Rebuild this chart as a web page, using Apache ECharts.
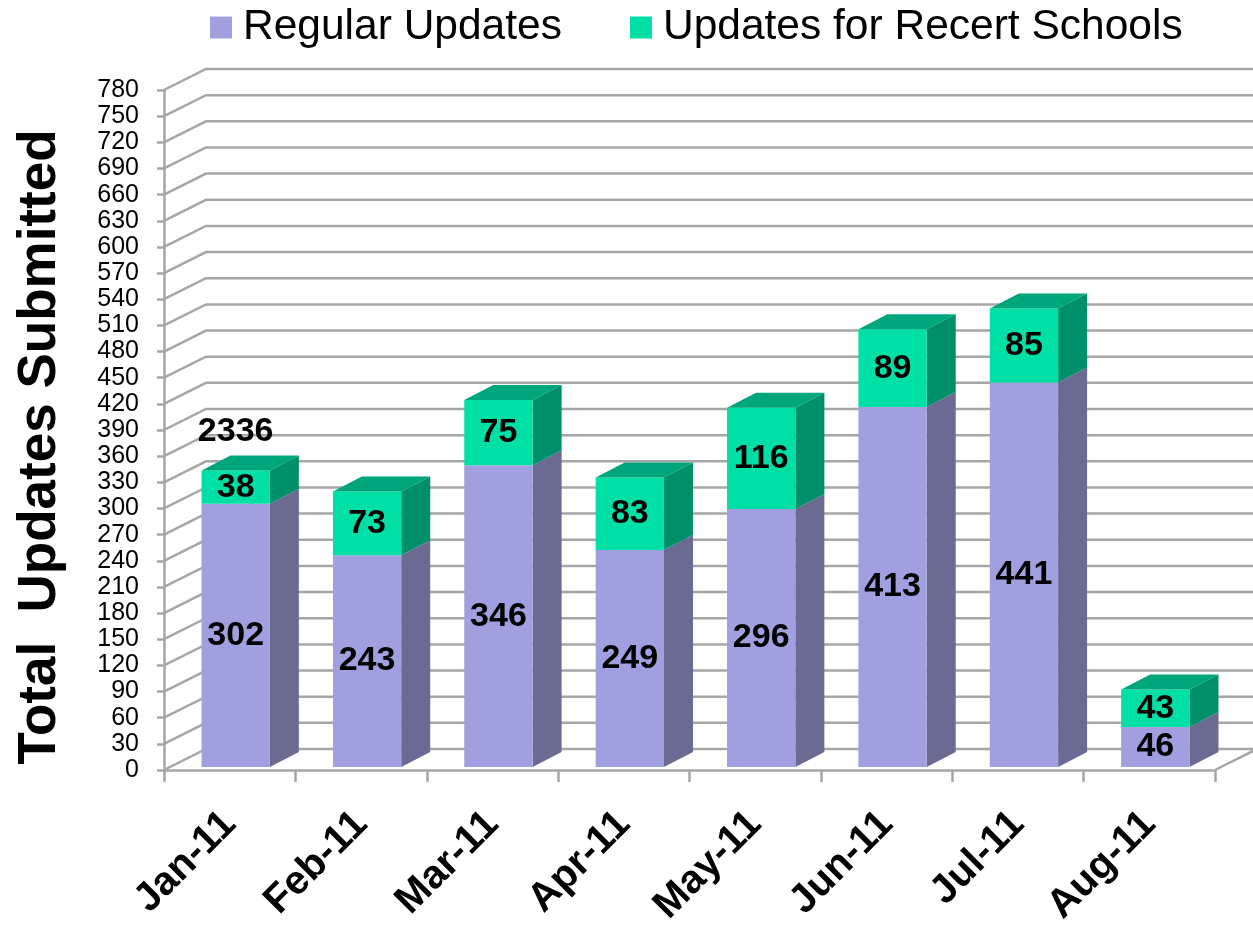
<!DOCTYPE html>
<html>
<head>
<meta charset="utf-8">
<script src="https://cdn.jsdelivr.net/npm/echarts@6/dist/echarts.min.js"></script>
<style>
	html, body { margin: 0; padding: 0; background: #fff; }
	#chart { width: 1253px; height: 928px; }
</style>
</head>
<body>
<div id="chart"></div>
<script>
const months = ['Jan-11', 'Feb-11', 'Mar-11', 'Apr-11', 'May-11', 'Jun-11', 'Jul-11', 'Aug-11'],
	regular = [302, 243, 346, 249, 296, 413, 441, 46],
	recert = [38, 73, 75, 83, 116, 89, 85, 43],
	yTicks = [0, 30, 60, 90, 120, 150, 180, 210, 240, 270, 300, 330, 360, 390, 420,
		450, 480, 510, 540, 570, 600, 630, 660, 690, 720, 750, 780],
	// the running total printed above the first bar
	totalLabel = regular.reduce((a, b) => a + b, 0),
	totalLabelAt = 385;

const font = 'Liberation Sans, Arial, sans-serif',
	wall = { dx: 42, dy: -21 },
	bar = { ox: 6, oy: -3, dx: 29, dy: -15, ratio: 0.52 },
	gridGray = '#a6a6a6';

const box = (api, idx, from, to, colors, withTop, text) => {
	const w = api.size([1, 0])[0] * bar.ratio,
		b = api.coord([idx, from]),
		t = api.coord([idx, to]),
		x0 = b[0] - w / 2 + bar.ox,
		x1 = x0 + w,
		yb = b[1] + bar.oy,
		yt = t[1] + bar.oy,
		children = [
			{
				type: 'polygon',
				shape: { points: [[x1, yt], [x1 + bar.dx, yt + bar.dy], [x1 + bar.dx, yb + bar.dy], [x1, yb]] },
				style: { fill: colors.side },
			},
			{
				type: 'rect',
				shape: { x: x0, y: yt, width: w, height: yb - yt },
				style: { fill: colors.front },
			},
		];
	if (withTop) {
		children.push({
			type: 'polygon',
			shape: { points: [[x0, yt], [x0 + bar.dx, yt + bar.dy], [x1 + bar.dx, yt + bar.dy], [x1, yt]] },
			style: { fill: colors.top },
		});
	}
	children.push({
		type: 'text',
		style: {
			text, x: (x0 + x1) / 2, y: (yt + yb) / 2,
			align: 'center', verticalAlign: 'middle',
			font: 'bold 34px ' + font, fill: '#000',
		},
	});
	return { type: 'group', children };
};

const chart = echarts.init(document.getElementById('chart'));

chart.setOption({
	animation: false,
	backgroundColor: '#fff',
	textStyle: { fontFamily: font },
	legend: {
		left: 205,
		top: 1,
		icon: 'rect',
		itemWidth: 22,
		itemHeight: 22,
		itemGap: 68,
		textStyle: { fontSize: 42.5, color: '#000', fontFamily: font, padding: [0, 0, 0, 6] },
		data: ['Regular Updates', 'Updates for Recert Schools'],
	},
	grid: { left: 164, right: 38, top: 90, bottom: 158, outerBoundsMode: 'none' },
	xAxis: {
		type: 'category',
		data: months,
		axisLine: { lineStyle: { color: gridGray, width: 2.5 } },
		axisTick: { show: true, length: 12, lineStyle: { color: gridGray, width: 2.5 } },
		axisLabel: {
			interval: 0, rotate: 45, margin: 48,
			fontSize: 40, fontWeight: 'bold', color: '#000', fontFamily: font,
		},
		splitLine: { show: false },
	},
	yAxis: {
		type: 'value',
		min: 0,
		max: 780,
		interval: 30,
		axisLine: { show: true, lineStyle: { color: gridGray, width: 2.5 } },
		axisTick: { show: true, length: 7, lineStyle: { color: gridGray, width: 2.5 } },
		axisLabel: { fontSize: 25, color: '#000', margin: 25, fontFamily: font },
		splitLine: { show: false },
	},
	graphic: [{
		type: 'text',
		x: 40,
		y: 447,
		rotation: Math.PI / 2,
		style: {
			text: 'Total  Updates Submitted',
			font: 'bold 53px ' + font,
			fill: '#000',
			align: 'center',
			verticalAlign: 'middle',
		},
	}],
	series: [
		{
			// back wall and floor
			type: 'custom',
			silent: true,
			z: 1,
			data: yTicks.map((v) => [0, v]),
			renderItem: (params, api) => {
				const cs = params.coordSys,
					v = api.value(1),
					y = api.coord([0, v])[1],
					children = [{
						type: 'polyline',
						shape: { points: [[cs.x, y], [cs.x + wall.dx, y + wall.dy], [cs.x + cs.width + wall.dx, y + wall.dy]] },
						style: { stroke: gridGray, lineWidth: 2.5, fill: 'none' },
					}];
				if (v === 0) {
					children.push({
						type: 'line',
						shape: { x1: cs.x + cs.width, y1: y, x2: cs.x + cs.width + wall.dx, y2: y + wall.dy },
						style: { stroke: gridGray, lineWidth: 2.5 },
					});
				}
				return { type: 'group', children };
			},
		},
		{
			name: 'Regular Updates',
			type: 'custom',
			z: 3,
			itemStyle: { color: '#a0a0e0' },
			data: regular.map((v, i) => [i, v]),
			renderItem: (params, api) => {
				const i = api.value(0), v = api.value(1);
				return box(api, i, 0, v, { front: '#a0a0e0', side: '#6a6a92', top: '#8888c0' }, false, String(v));
			},
		},
		{
			name: 'Updates for Recert Schools',
			type: 'custom',
			z: 4,
			itemStyle: { color: '#00e0a6' },
			data: recert.map((v, i) => [i, v]),
			renderItem: (params, api) => {
				const i = api.value(0), v = api.value(1), base = regular[i];
				return box(api, i, base, base + v, { front: '#00e0a6', side: '#008f6b', top: '#00a67b' }, true, String(v));
			},
		},
		{
			type: 'custom',
			silent: true,
			z: 5,
			data: [[0, totalLabelAt]],
			renderItem: (params, api) => {
				const p = api.coord([api.value(0), api.value(1)]);
				return {
					type: 'text',
					style: {
						text: String(totalLabel), x: p[0] + bar.ox, y: p[1] + bar.oy,
						align: 'center', verticalAlign: 'middle',
						font: 'bold 34px ' + font, fill: '#000',
					},
				};
			},
		},
	],
});
</script>
</body>
</html>
